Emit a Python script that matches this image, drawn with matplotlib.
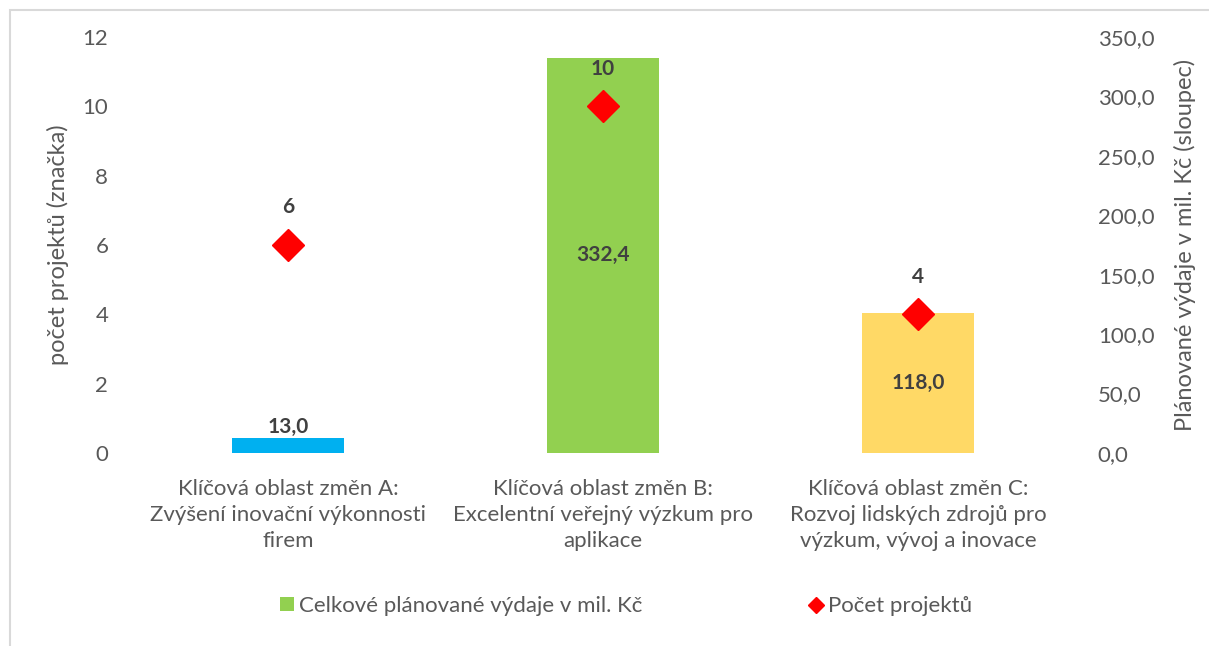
import matplotlib
matplotlib.use('Agg')
import matplotlib.pyplot as plt
from matplotlib.lines import Line2D
from matplotlib.patches import Patch, Rectangle
from matplotlib.ticker import FuncFormatter

plt.rcParams['font.family'] = ['Lato', 'DejaVu Sans']

# data
categories = ['Klíčová oblast změn A:\nZvýšení inovační výkonnosti\nfirem',
              'Klíčová oblast změn B:\nExcelentní veřejný výzkum pro\naplikace',
              'Klíčová oblast změn C:\nRozvoj lidských zdrojů pro\nvýzkum, vývoj a inovace']
spending = [13.0, 332.4, 118.0]
projects = [6, 10, 4]
bar_colors = ['#00B0F0', '#92D050', '#FFD966']

grey = '#595959'
dark = '#404040'

fig = plt.figure(figsize=(12.09, 6.46), dpi=100)
# light frame around chart area
fig.patches.append(Rectangle((10 / 1209, -0.1), 1.2, 1 - 10 / 646 + 0.1, transform=fig.transFigure,
                             fill=False, edgecolor='#D9D9D9', linewidth=1.5))

ax = fig.add_axes([0.108, 0.2988, 0.7816, 0.6439])
ax2 = ax.twinx()

x = list(range(len(categories)))

# bars on secondary axis
ax2.bar(x, spending, width=0.356, color=bar_colors, zorder=1)
ax2.set_ylim(0, 350)
ax2.set_yticks([0, 50, 100, 150, 200, 250, 300, 350])
ax2.yaxis.set_major_formatter(FuncFormatter(lambda v, p: ('%.1f' % v).replace('.', ',')))
ax2.set_ylabel('Plánované výdaje v mil. Kč (sloupec)', fontsize=17, color=grey, labelpad=14)

for i, v in enumerate(spending):
    lbl = ('%.1f' % v).replace('.', ',')
    if v < 30:
        ax2.annotate(lbl, (i, v), xytext=(0, 0.5), textcoords='offset points', ha='center', va='bottom',
                     fontsize=15, fontweight='bold', color=dark)
    else:
        ax2.text(i, v / 2, lbl, ha='center', va='center', fontsize=15, fontweight='bold', color=dark)

# markers on primary axis
ax.set_zorder(ax2.get_zorder() + 1)
ax.patch.set_visible(False)
ax.plot(x, projects, linestyle='none', marker='D', markersize=16, color='#FF0000', zorder=3)
for i, v in enumerate(projects):
    ax.annotate(str(v), (i, v), xytext=(0, 27), textcoords='offset points', ha='center', va='center',
                fontsize=15, fontweight='bold', color=dark)

ax.set_ylim(0, 12)
ax.set_yticks([0, 2, 4, 6, 8, 10, 12])
ax.set_xlim(-0.5, 2.5)
ax2.set_xlim(-0.5, 2.5)
ax.set_xticks(x)
ax.set_xticklabels(categories, fontsize=16, color=grey, linespacing=1.35)
ax.set_ylabel('počet projektů (značka)', fontsize=17, color=grey, labelpad=10)

for a in (ax, ax2):
    for s in a.spines.values():
        s.set_visible(False)
    a.tick_params(length=0, labelsize=16, labelcolor=grey)
ax.tick_params(axis='x', pad=19)
ax.tick_params(axis='y', pad=16)
ax2.tick_params(axis='y', pad=16)

handles = [Patch(facecolor='#92D050', edgecolor='none'),
           Line2D([], [], linestyle='none', marker='D', markersize=8, color='#FF0000')]
fig.legend(handles, ['Celkové plánované výdaje v mil. Kč', 'Počet projektů'],
           loc='center', bbox_to_anchor=(0.518, 0.062), ncol=2, frameon=False,
           fontsize=16, labelcolor=grey, handlelength=0.6, handleheight=0.6,
           handletextpad=0.25, columnspacing=7.5)

fig.savefig('out.png', dpi=100)
